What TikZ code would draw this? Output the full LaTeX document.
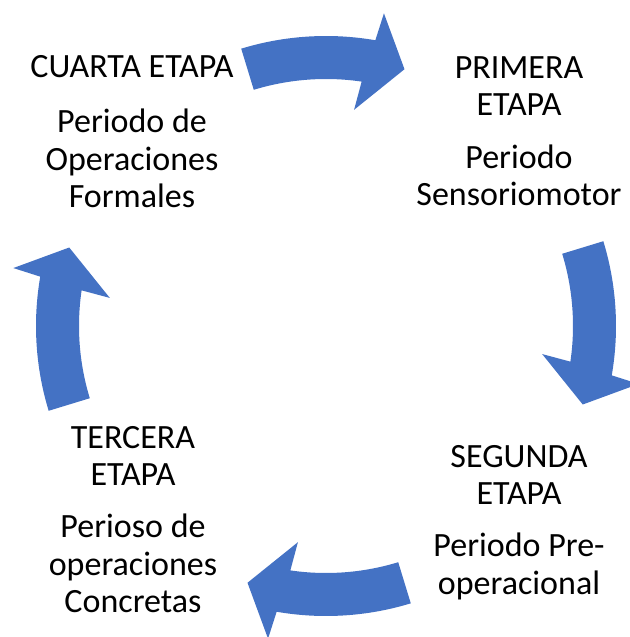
\documentclass[tikz,border=0pt]{standalone}
\usepackage{fontspec}
\setmainfont{Carlito}
\usepackage{tikz}

\definecolor{azulsmart}{HTML}{4472C4}

% flecha curva del ciclo, #1 = angulo central
\newcommand{\flechaciclo}[1]{%
\fill[flecha] ({#1+17}:290) arc[start angle={#1+17}, end angle={#1-9.8}, radius=290pt]
  -- ({#1-10.5}:318) -- ({#1-17}:268.5) -- ({#1-7.4}:218) -- ({#1-8.3}:247)
  arc[start angle={#1-8.3}, end angle={#1+17}, radius=247pt] -- cycle;}

\begin{document}
\begin{tikzpicture}[x=1pt,y=1pt]
\tikzstyle{flecha} = [fill=azulsmart, draw=none]
\tikzstyle{etapa} = [align=center, inner sep=0pt, anchor=north, font=\fontsize{34}{37.5}\selectfont]
\useasboundingbox (-326,-311) rectangle (303,326);
% flechas
\foreach \ang in {90,0,-90,180} {\flechaciclo{\ang}}
% textos
\node[etapa] (t4) at (-194,271) {CUARTA ETAPA};
\node[etapa] (p4) at (-194,217) {Periodo de\\Operaciones\\Formales};
\node[etapa] (t1) at (193,270) {PRIMERA\\ETAPA};
\node[etapa] (p1) at (193,181.5) {Periodo\\Sensoriomotor};
\node[etapa] (t2) at (193,-119) {SEGUNDA\\ETAPA};
\node[etapa] (p2) at (193,-207) {Periodo Pre-\\operacional};
\node[etapa] (t3) at (-193,-100) {TERCERA\\ETAPA};
\node[etapa] (p3) at (-193,-188) {Perioso de\\operaciones\\Concretas};
\end{tikzpicture}
\end{document}
